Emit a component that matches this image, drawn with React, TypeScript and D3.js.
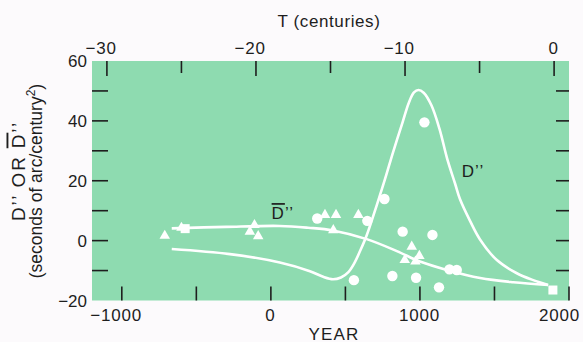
import { line, curveCatmullRom, scaleLinear, symbol, symbolTriangle } from 'd3'

const width = 583
const height = 342
const margin = { top: 61, right: 14, bottom: 41.5, left: 92 }

// curve: [year, value]
const dCurve = [
  [-665, -2.8], [-275, -4.5], [60, -7.3], [262, -10.2], [351, -12.1], [416, -12.9],
  [470, -12.3], [520, -10.5], [560, -7.5], [600, -3.3], [643, 1.8], [710, 11.8],
  [766, 20.6], [820, 29.6], [884, 39.6], [925, 46], [960, 49.5], [990, 50.3],
  [1025, 49.4], [1077, 45.2], [1133, 37], [1182, 27.5], [1236, 19], [1269, 13.8],
  [1336, 6.6], [1403, 0.4], [1516, -6.5], [1650, -10.9], [1760, -13.2], [1860, -14.8],
]
const dBarCurve = [
  [-665, 4.1], [-300, 4.6], [60, 4.9], [250, 4.3], [416, 3.4], [643, 0.5],
  [845, -3.5], [1000, -7], [1180, -9.8], [1404, -12.5], [1626, -13.9], [1860, -14.8],
]

const circles = [
  [311, 7.4], [647, 6.6], [762, 13.9], [884, 3.0], [1084, 1.9], [1030, 39.5],
  [557, -13.2], [815, -11.8], [974, -12.4], [1128, -15.6], [1198, -9.6], [1247, -9.8],
]
const triangles = [
  [-712, 1.6], [-600, 4.3], [-141, 3], [-110, 5.2], [-85, 1.5], [363, 8.6],
  [437, 8.6], [587, 8.6], [419, 3.5], [945, -2], [996, -5.1], [898, -6.5], [970, -7],
]
const squares = [[1892, -16.5], [-575, 4]]

const yearTicks = [-1000, -500, 0, 500, 1000, 1500, 2000]
const yearLabels = [-1000, 0, 1000, 2000]
const centuryTicks = [-30, -25, -20, -15, -10, -5, 0]
const centuryLabels = [-30, -20, -10, 0]
const valueTicks = [-10, 0, 10, 20, 30, 40, 50]
const valueLabels = [-20, 0, 20, 40, 60]

const green = '#8edbb0'
const ink = '#1e1e1e'
const font = '"Liberation Sans", Arial, sans-serif'

// numbers are centred on their digits, the minus sign hangs to the left
function Num({ x, y, v, size, spacing }) {
  const digits = String(Math.abs(v))
  const half = (digits.length * (size * 0.556 + spacing) - spacing) / 2
  return (
    <text x={x + half} y={y} textAnchor="end" fontSize={size} fill={ink} letterSpacing={spacing}>
      {v < 0 ? '\u2212' + digits : digits}
    </text>
  )
}

function App() {
  const innerRight = width - margin.right
  const innerBottom = height - margin.bottom
  const x = scaleLinear().domain([-1200, 2000]).range([margin.left, innerRight])
  const t = scaleLinear().domain([-31, 1]).range([margin.left, innerRight])
  const y = scaleLinear().domain([-20, 60]).range([innerBottom, margin.top])

  const path = line()
    .x((d) => x(d[0]))
    .y((d) => y(d[1]))
    .curve(curveCatmullRom.alpha(0.5))
  const tri = symbol().type(symbolTriangle).size(48)()

  return (
    <svg
      width={width}
      height={height}
      style={{ position: 'absolute', left: 0, top: 0 }}
      fontFamily={font}
    >
      <rect width={width} height={height} fill="#fcfafc" />
      <rect
        x={margin.left}
        y={margin.top}
        width={innerRight - margin.left}
        height={innerBottom - margin.top}
        fill={green}
      />

      {/* top axis: T (centuries) */}
      {centuryTicks.map((v) => (
        <line
          key={'t' + v}
          x1={t(v)}
          x2={t(v)}
          y1={margin.top}
          y2={margin.top + (v % 10 === 0 ? 15 : 12)}
          stroke={ink}
          strokeWidth={1.6}
        />
      ))}
      {centuryLabels.map((v) => (
        <Num key={'tl' + v} x={t(v)} y={53.5} v={v} size={17} spacing={0.8} />
      ))}
      <text x={329} y={27} textAnchor="middle" fontSize={17} fill={ink} letterSpacing={0.6}>
        T (centuries)
      </text>

      {/* bottom axis: year */}
      {yearTicks.map((v) => (
        <line
          key={'y' + v}
          x1={x(v)}
          x2={x(v)}
          y1={innerBottom}
          y2={innerBottom - 14}
          stroke={ink}
          strokeWidth={1.6}
        />
      ))}
      {yearLabels.map((v) => (
        <Num key={'yl' + v} x={Math.min(x(v), 560)} y={320.5} v={v} size={17} spacing={0.8} />
      ))}
      <text x={334} y={339.5} textAnchor="middle" fontSize={17} fill={ink} letterSpacing={1.2}>
        YEAR
      </text>

      {/* value ticks, left and right */}
      {valueTicks.map((v) => (
        <g key={'v' + v}>
          <line x1={margin.left} x2={margin.left + 16} y1={y(v)} y2={y(v)} stroke={ink} strokeWidth={1.6} />
          <line x1={innerRight - 13} x2={innerRight} y1={y(v)} y2={y(v)} stroke={ink} strokeWidth={1.6} />
        </g>
      ))}
      {valueLabels.map((v) => (
        <text key={'vl' + v} x={87} y={y(v)} dy=".36em" textAnchor="end" fontSize={17} fill={ink}>
          {v < 0 ? '\u2212' + Math.abs(v) : v}
        </text>
      ))}

      <g transform="translate(24.5,171) rotate(-90)">
        <text textAnchor="middle" fontSize={19} fill={ink} letterSpacing={1.8}>
          D’’ OR <tspan textDecoration="overline">D</tspan>’’
        </text>
      </g>
      <g transform="translate(42,181) rotate(-90)">
        <text textAnchor="middle" fontSize={17.5} fill={ink}>
          (seconds of arc/century<tspan dy={-7} fontSize={12}>2</tspan>
          <tspan dy={7}>)</tspan>
        </text>
      </g>

      {/* curves */}
      <path d={path(dCurve)} fill="none" stroke="white" strokeWidth={2.6} />
      <path d={path(dBarCurve)} fill="none" stroke="white" strokeWidth={2.6} />

      {circles.map((d, i) => (
        <circle key={'c' + i} cx={x(d[0])} cy={y(d[1])} r={5.2} fill="white" />
      ))}
      {triangles.map((d, i) => (
        <path key={'tr' + i} d={tri} transform={`translate(${x(d[0])},${y(d[1])})`} fill="white" />
      ))}
      {squares.map((d, i) => (
        <rect key={'s' + i} x={x(d[0]) - 4.5} y={y(d[1]) - 4.5} width={9} height={9} fill="white" />
      ))}

      <text x={x(5)} y={y(7.2)} fontSize={17} fill={ink} letterSpacing={1}>
        <tspan textDecoration="overline">D</tspan>’’
      </text>
      <text x={x(1280)} y={y(21.2)} fontSize={17} fill={ink} letterSpacing={1}>
        D’’
      </text>
    </svg>
  )
}

export default App
